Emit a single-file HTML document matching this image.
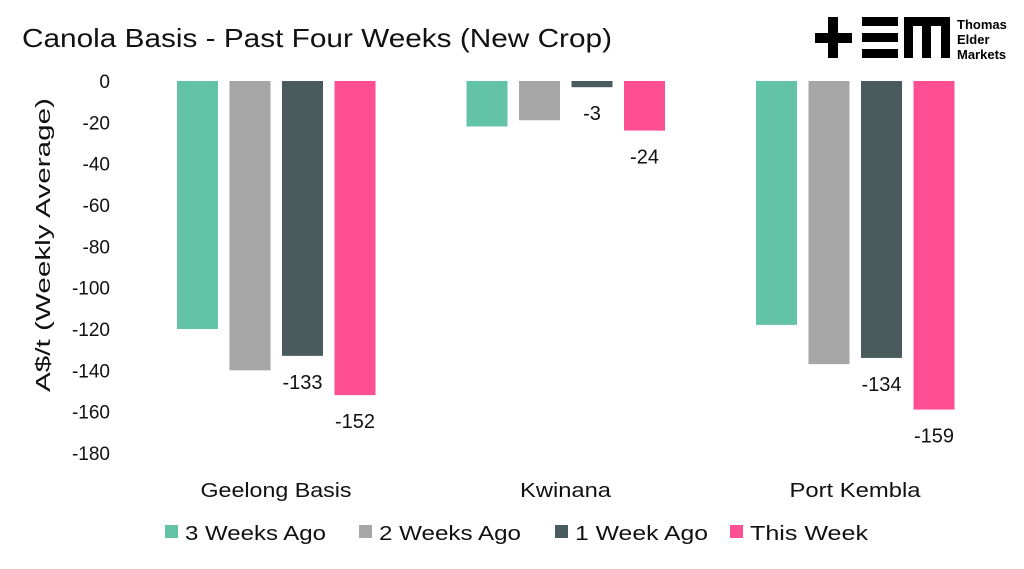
<!DOCTYPE html>
<html><head><meta charset="utf-8"><style>
body{margin:0;background:#fff;}
svg{display:block;font-family:"Liberation Sans",sans-serif;}
</style></head><body>
<svg id="c" width="1024" height="569" viewBox="0 0 1024 569">
<rect width="1024" height="569" fill="#fff"/>
<text x="22" y="47" font-size="26" textLength="590" lengthAdjust="spacingAndGlyphs" fill="#111">Canola Basis - Past Four Weeks (New Crop)</text>
<g>
<rect x="815" y="33" width="37" height="10" fill="#000"/>
<rect x="828" y="17" width="10" height="41" fill="#000"/>
<rect x="862" y="17" width="36" height="9" fill="#000"/>
<rect x="862" y="33" width="36" height="9" fill="#000"/>
<rect x="862" y="49" width="36" height="9" fill="#000"/>
<rect x="904" y="17" width="46" height="9" fill="#000"/>
<rect x="904" y="17" width="9" height="41" fill="#000"/>
<rect x="922" y="17" width="9" height="41" fill="#000"/>
<rect x="941" y="17" width="9" height="41" fill="#000"/>
<text x="957" y="29" font-size="13" font-weight="bold">Thomas</text>
<text x="957" y="44" font-size="13" font-weight="bold">Elder</text>
<text x="957" y="59" font-size="13" font-weight="bold">Markets</text>
</g>
<text transform="translate(50,245) rotate(-90)" text-anchor="middle" font-size="20" textLength="294" lengthAdjust="spacingAndGlyphs" fill="#111">A$/t (Weekly Average)</text>
<g id="yt"></g><g id="bars"></g><g id="xl"></g><g id="leg"></g>
</svg>
<script>
const categories=["Geelong Basis","Kwinana","Port Kembla"];
const series=["3 Weeks Ago","2 Weeks Ago","1 Week Ago","This Week"];
const colors=["#62c4a4","#a6a6a6","#4a5b5e","#ff4f93"];
const values=[[-120,-22,-118],[-140,-19,-137],[-133,-3,-134],[-152,-24,-159]];
const showLabel=[false,false,true,true];
const yTicks=[0,-20,-40,-60,-80,-100,-120,-140,-160,-180];
const catWidths=[151,91,131];
const legWidths=[141,142,133,118];
const NS="http://www.w3.org/2000/svg";
const y0=81,pxu=372/180;
const y=v=>y0-v*pxu;
const cx=i=>276+i*289.5;
function mk(t,a,p){const e=document.createElementNS(NS,t);for(const k in a)e.setAttribute(k,a[k]);document.getElementById(p).appendChild(e);return e;}
yTicks.forEach(t=>{const e=mk("text",{x:110,y:y(t)+7,"text-anchor":"end","font-size":19,fill:"#111"},"yt");e.textContent=t;

});
categories.forEach((c,i)=>{const e=mk("text",{x:cx(i),y:497,"text-anchor":"middle","font-size":20,textLength:catWidths[i],lengthAdjust:"spacingAndGlyphs",fill:"#111"},"xl");e.textContent=c;


series.forEach((s,j)=>{const v=values[j][i];const x=cx(i)-99+j*52.5;
const r=mk("rect",{x:x,y:y0,width:41,height:y(v)-y0,fill:colors[j]},"bars");


if(showLabel[j]){const l=mk("text",{x:x+20.5,y:y(v)+33,"text-anchor":"middle","font-size":20,fill:"#111"},"bars");l.textContent=v;

}
});});
const lx=[165,359,555,730];
series.forEach((s,j)=>{const r=mk("rect",{x:lx[j],y:525,width:13,height:13,fill:colors[j]},"leg");


const t=mk("text",{x:lx[j]+20,y:540,"font-size":20,textLength:legWidths[j],lengthAdjust:"spacingAndGlyphs",fill:"#111"},"leg");t.textContent=s;

});
</script>
</body></html>
